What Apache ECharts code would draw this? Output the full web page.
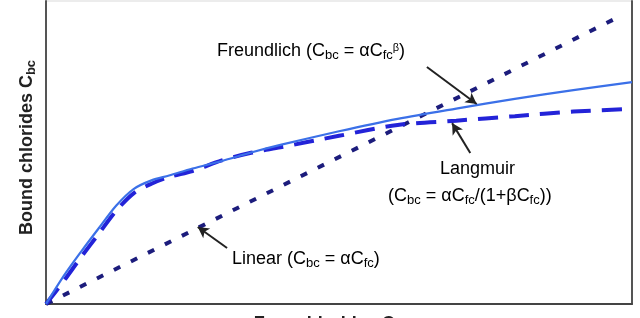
<!DOCTYPE html>
<html>
<head>
<meta charset="utf-8">
<script src="https://cdn.jsdelivr.net/npm/echarts@6/dist/echarts.min.js"></script>
<style>
  html, body { margin: 0; padding: 0; background: #fff; }
  #chart { width: 640px; height: 318px; }
</style>
</head>
<body>
<div id="chart"></div>
<script>
// free chloride values shared by the two curved isotherms
const freeX = [0, 3, 6, 9, 12, 15, 18, 21, 25, 30, 35, 40, 50, 60, 70, 80, 90, 100];
// bound chlorides, Freundlich (solid)
const freundlichY = [0, 9.2, 17.3, 25.0, 32.5, 38.0, 40.8, 42.4, 44.7, 47.2, 50.0, 52.5, 57.0, 61.1, 64.5, 67.7, 70.6, 73.2];
// bound chlorides, Langmuir (dashed)
const langmuirY = [0, 7.5, 15.5, 23.2, 30.8, 36.6, 39.7, 41.9, 43.9, 47.4, 49.9, 51.7, 55.5, 59.1, 60.5, 62.0, 63.5, 64.4];
// linear isotherm (dotted)
const linearX = [0, 98.5];
const linearY = [0, 95.5];

// annotation arrows: [fromX, fromY, toX, toY]
const arrowFreundlich = [65.0, 78.2, 73.5, 66.0];
const arrowLangmuir = [72.4, 49.8, 69.3, 59.7];
const arrowLinear = [30.9, 18.5, 25.9, 25.4];

const zip = (xs, ys) => xs.map((x, i) => [x, ys[i]]);
const arrow = (a) => [{ coord: [a[0], a[1]] }, { coord: [a[2], a[3]] }];

const FONT = "Liberation Sans, Arial, sans-serif";
// rich styles for the formula labels
const noteRich = {
  m: { fontSize: 18, fontFamily: FONT, color: "#333", lineHeight: 20, verticalAlign: "bottom", padding: [0, 0, 2, 0] },
  s: { fontSize: 13, fontFamily: FONT, color: "#333", lineHeight: 14, verticalAlign: "bottom" },
  p: { fontSize: 11, fontFamily: FONT, color: "#333", lineHeight: 12, verticalAlign: "top" },
};
const axisRich = {
  m: { fontSize: 18, fontWeight: "bold", fontFamily: FONT, color: "#222", lineHeight: 20, verticalAlign: "bottom", padding: [0, 0, 2, 0] },
  s: { fontSize: 13, fontWeight: "bold", fontFamily: FONT, color: "#222", lineHeight: 14, verticalAlign: "bottom" },
};

const chart = echarts.init(document.getElementById("chart"));
chart.setOption({
  animation: false,
  grid: {
    left: 46, right: 8, top: 1, bottom: 14,
    containLabel: false, outerBoundsMode: "none",
    show: true, borderColor: "#d9d9d9", borderWidth: 1,
  },
  xAxis: {
    type: "value", min: 0, max: 100,
    name: "{m|Free chlorides C}{s|fc}",
    nameLocation: "middle", nameGap: 11,
    nameTextStyle: { rich: axisRich, padding: [0, 18, 0, 0] },
    axisLine: { show: true, onZero: false, lineStyle: { color: "#444", width: 2 } },
    axisTick: { show: false }, axisLabel: { show: false }, splitLine: { show: false },
  },
  yAxis: [
    {
      type: "value", min: 0, max: 100,
      name: "{m|Bound chlorides C}{s|bc}",
      nameLocation: "middle", nameGap: 8,
      nameTextStyle: { rich: axisRich, padding: [0, 0, 0, 10] },
      axisLine: { show: true, onZero: false, lineStyle: { color: "#555", width: 2 } },
      axisTick: { show: false }, axisLabel: { show: false }, splitLine: { show: false },
    },
    {
      type: "value", min: 0, max: 100, position: "right",
      axisLine: { show: true, onZero: false, lineStyle: { color: "#555", width: 2 } },
      axisTick: { show: false }, axisLabel: { show: false }, splitLine: { show: false },
    },
  ],
  series: [
    {
      name: "Linear", type: "line", data: zip(linearX, linearY),
      showSymbol: false, symbol: "none",
      lineStyle: { color: "#1c1c7c", width: 4, type: [7, 12], cap: "butt" },
      markLine: {
        silent: true, symbol: ["none", "arrow"], symbolSize: [9, 11],
        label: { show: false },
        lineStyle: { color: "#222", width: 2, type: "solid" },
        data: [arrow(arrowFreundlich), arrow(arrowLangmuir), arrow(arrowLinear)],
      },
    },
    {
      name: "Langmuir", type: "line", data: zip(freeX, langmuirY),
      smooth: 0.3, showSymbol: false, symbol: "none",
      lineStyle: { color: "#2323d8", width: 4, type: [20, 11] },
    },
    {
      name: "Freundlich", type: "line", data: zip(freeX, freundlichY),
      smooth: 0.3, showSymbol: false, symbol: "none",
      lineStyle: { color: "#3b70e8", width: 2.2 },
    },
  ],
  graphic: [
    {
      type: "text", left: 217, top: 42,
      style: { text: "{m|Freundlich (C}{s|bc}{m| = αC}{s|fc}{p|β}{m|)}", rich: noteRich },
    },
    {
      type: "text", left: 440, top: 160,
      style: { text: "{m|Langmuir}", rich: noteRich },
    },
    {
      type: "text", left: 388, top: 187,
      style: { text: "{m|(C}{s|bc}{m| = αC}{s|fc}{m|/(1+βC}{s|fc}{m|))}", rich: noteRich },
    },
    {
      type: "text", left: 232, top: 250,
      style: { text: "{m|Linear (C}{s|bc}{m| = αC}{s|fc}{m|)}", rich: noteRich },
    },
  ],
});
</script>
</body>
</html>
